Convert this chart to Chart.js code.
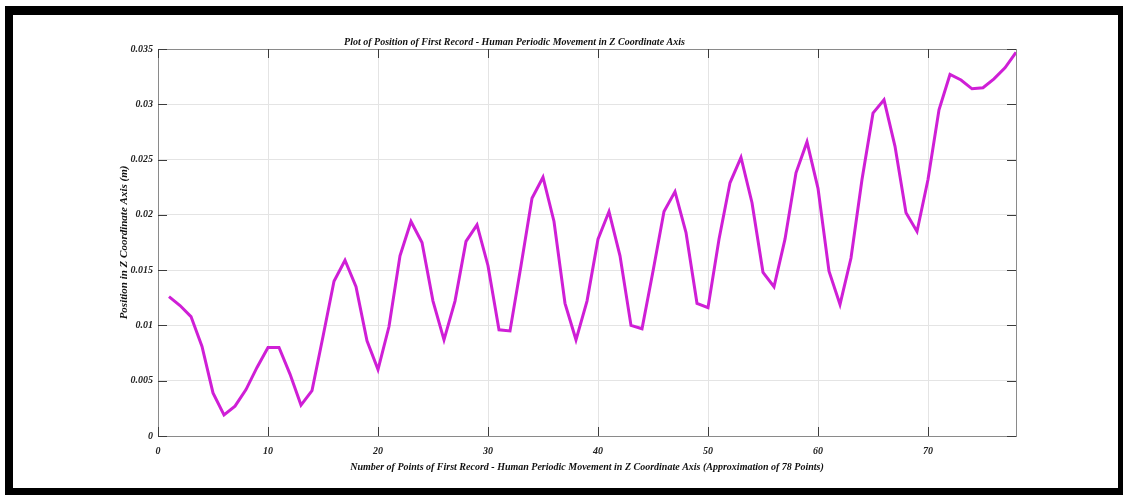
<!DOCTYPE html>
<html>
<head>
<meta charset="utf-8">
<title>Plot of Position of First Record - Z Coordinate Axis</title>
<script src="https://cdn.jsdelivr.net/npm/chart.js@4.4.1/dist/chart.umd.min.js"></script>
<style>
    html, body { margin: 0; padding: 0; background: #fff; }
    #frame {
        position: absolute;
        left: 5px;
        top: 6px;
        width: 1105px;
        height: 473px;
        border-style: solid;
        border-color: #000;
        border-width: 9px 5px 7px 8px;
        background: #fff;
    }
    #zChart { display: block; }
</style>
</head>
<body>
<div id="frame">
    <canvas id="zChart" width="1105" height="473"></canvas>
</div>
<script>
// Point numbers of the first record (x axis)
const pointNumbers = [
    1, 2, 3, 4, 5, 6, 7, 8, 9, 10,
    11, 12, 13, 14, 15, 16, 17, 18, 19, 20,
    21, 22, 23, 24, 25, 26, 27, 28, 29, 30,
    31, 32, 33, 34, 35, 36, 37, 38, 39, 40,
    41, 42, 43, 44, 45, 46, 47, 48, 49, 50,
    51, 52, 53, 54, 55, 56, 57, 58, 59, 60,
    61, 62, 63, 64, 65, 66, 67, 68, 69, 70,
    71, 72, 73, 74, 75, 76, 77, 78
];

// Position in Z coordinate axis (m)
const zPosition = [
    0.0126, 0.0118, 0.0108, 0.0081, 0.0039, 0.0019, 0.0027, 0.0042, 0.0062, 0.0080,
    0.0080, 0.0056, 0.0028, 0.0041, 0.0090, 0.0140, 0.0159, 0.0135, 0.0086, 0.0060,
    0.0099, 0.0163, 0.0194, 0.0175, 0.0122, 0.0087, 0.0122, 0.0176, 0.0191, 0.0154,
    0.0096, 0.0095, 0.0154, 0.0215, 0.0234, 0.0194, 0.0120, 0.0087, 0.0122, 0.0178,
    0.0203, 0.0163, 0.0100, 0.0097, 0.0149, 0.0203, 0.0221, 0.0184, 0.0120, 0.0116,
    0.0178, 0.0229, 0.0252, 0.0211, 0.0148, 0.0135, 0.0178, 0.0238, 0.0266, 0.0224,
    0.0149, 0.0119, 0.0161, 0.0232, 0.0292, 0.0304, 0.0262, 0.0202, 0.0185, 0.0232,
    0.0295, 0.0327, 0.0322, 0.0314, 0.0315, 0.0323, 0.0333, 0.0347
];

// Tick values and labels
const xTicks = [0, 10, 20, 30, 40, 50, 60, 70];
const xTickLabels = ['0', '10', '20', '30', '40', '50', '60', '70'];
const yTicks = [0, 0.005, 0.01, 0.015, 0.02, 0.025, 0.03, 0.035];
const yTickLabels = ['0', '0.005', '0.01', '0.015', '0.02', '0.025', '0.03', '0.035'];

const serif = '"Liberation Serif", "Times New Roman", serif';

// MATLAB style box with inward tick marks on all four sides
const boxPlugin = {
    id: 'boxPlugin',
    afterDraw(chart) {
        const ctx = chart.ctx;
        const { left, right, top, bottom } = chart.chartArea;
        const xs = chart.scales.x;
        const ys = chart.scales.y;
        ctx.save();
        ctx.strokeStyle = '#8a8a8a';
        ctx.lineWidth = 1;
        ctx.strokeRect(Math.round(left) + 0.5, Math.round(top) + 0.5,
            Math.round(right - left), Math.round(bottom - top));

        ctx.strokeStyle = '#3c3c3c';
        ctx.beginPath();
        xs.ticks.forEach(t => {
            const px = Math.round(xs.getPixelForValue(t.value)) + 0.5;
            ctx.moveTo(px, bottom);
            ctx.lineTo(px, bottom - 9);
            ctx.moveTo(px, top);
            ctx.lineTo(px, top + 9);
        });
        ys.ticks.forEach(t => {
            const py = Math.round(ys.getPixelForValue(t.value)) + 0.5;
            ctx.moveTo(left, py);
            ctx.lineTo(left + 9, py);
            ctx.moveTo(right, py);
            ctx.lineTo(right - 9, py);
        });
        ctx.stroke();
        ctx.restore();
    }
};

const ctx = document.getElementById('zChart').getContext('2d');

new Chart(ctx, {
    type: 'line',
    data: {
        labels: pointNumbers,
        datasets: [{
            label: 'Z position',
            data: pointNumbers.map((n, i) => ({ x: n, y: zPosition[i] })),
            borderColor: '#cf1fd6',
            backgroundColor: '#cf1fd6',
            borderWidth: 3,
            pointRadius: 0,
            tension: 0,
            borderJoinStyle: 'miter'
        }]
    },
    options: {
        responsive: false,
        animation: false,
        layout: {
            padding: { top: 21, right: 102, bottom: 0, left: 0 }
        },
        plugins: {
            legend: { display: false },
            tooltip: { enabled: false },
            title: {
                display: true,
                text: 'Plot of Position of First Record - Human Periodic Movement in Z Coordinate Axis',
                color: '#111',
                padding: { top: 0, bottom: 1 },
                font: { family: serif, size: 10, weight: 'bold', style: 'italic', lineHeight: 1.2 }
            }
        },
        scales: {
            x: {
                type: 'linear',
                min: 0,
                max: 78,
                afterBuildTicks: scale => {
                    scale.ticks = xTicks.map(v => ({ value: v }));
                },
                afterFit: scale => { scale.height = 52; },
                grid: { color: '#e4e4e4', drawTicks: false },
                border: { display: false },
                ticks: {
                    padding: 9,
                    color: '#222',
                    font: { family: serif, size: 10, weight: 'bold', style: 'italic' },
                    callback: (value, index) => xTickLabels[index]
                },
                title: {
                    display: true,
                    text: 'Number of Points of First Record - Human Periodic Movement in Z Coordinate Axis (Approximation of 78 Points)',
                    color: '#111',
                    padding: { top: 0, bottom: 15 },
                    font: { family: serif, size: 10, weight: 'bold', style: 'italic', lineHeight: 1.2 }
                }
            },
            y: {
                min: 0,
                max: 0.035,
                afterBuildTicks: scale => {
                    scale.ticks = yTicks.map(v => ({ value: v }));
                },
                afterFit: scale => { scale.width = 145; },
                grid: { color: '#e4e4e4', drawTicks: false },
                border: { display: false },
                ticks: {
                    padding: 5,
                    color: '#222',
                    font: { family: serif, size: 10, weight: 'bold', style: 'italic' },
                    callback: (value, index) => yTickLabels[index]
                },
                title: {
                    display: true,
                    text: 'Position in Z Coordinate Axis (m)',
                    color: '#111',
                    padding: { top: 105, bottom: 0 },
                    font: { family: serif, size: 11, weight: 'bold', style: 'italic', lineHeight: 1.2 }
                }
            }
        }
    },
    plugins: [boxPlugin]
});
</script>
</body>
</html>
